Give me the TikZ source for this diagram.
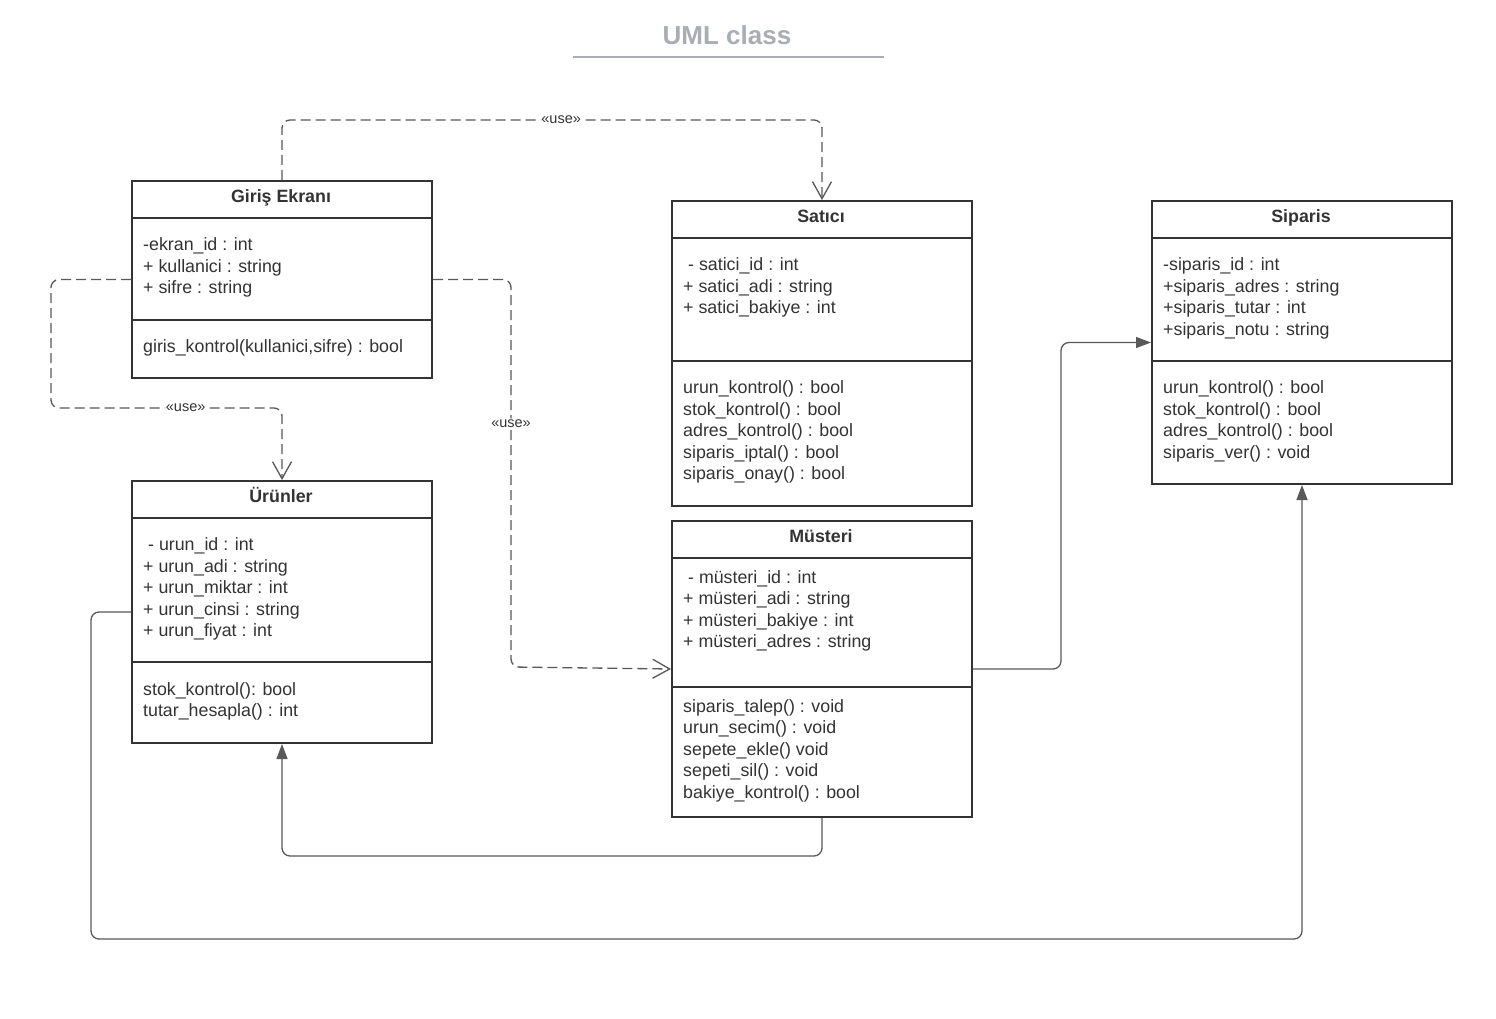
\documentclass[tikz,border=0pt]{standalone}
\usepackage{fontspec}
\setmainfont{Liberation Sans}
\usetikzlibrary{arrows.meta,calc}
\definecolor{ink}{HTML}{333333}
\definecolor{conn}{HTML}{595959}
\definecolor{ttl}{HTML}{A9ADB5}
\newcommand\classlines[4]{\foreach \t [count=\i from 0] in {#4} \node[txt] (#1-\i) at (#2,#3+21.5*\i) {\t};}
\begin{document}
\begin{tikzpicture}[x=1pt,y=-1pt,
 cls/.style={draw=ink,line width=2pt,minimum width=300pt,anchor=north west,inner sep=0pt,fill=white},
 hdr/.style={font=\fontsize{17.8}{21.5}\selectfont\bfseries,text=ink,anchor=base,inner sep=0pt},
 txt/.style={font=\fontsize{17.8}{21.5}\selectfont,text=ink,anchor=base west,inner sep=0pt},
 divl/.style={draw=ink,line width=2pt},
 dep/.style={draw=conn,line width=1.3pt,dash pattern=on 10pt off 5pt,rounded corners=8pt,-{Straight Barb[length=17pt,width=19pt]}},
 assoc/.style={draw=conn,line width=1.3pt,rounded corners=8pt,-{Triangle[length=15pt,width=11pt]}},
 uselbl/.style={font=\fontsize{14.5}{16}\selectfont,text=ink,fill=white,inner sep=1pt}]
\fill[white] (0,0) rectangle (1496,1019);
\useasboundingbox (0,0) rectangle (1496,1019);

% title
\node[font=\fontsize{26}{30}\selectfont\bfseries,text=ttl] (title) at (727,35) {UML class};
\draw[ttl,line width=2pt] (573,57) -- (884,57);

% class boxes
\node[cls,minimum height=197pt] (giris) at (131,180) {};
\node[cls,minimum height=262pt] (urunler) at (131,480) {};
\node[cls,minimum height=305pt] (satici) at (671,200) {};
\node[cls,minimum height=296pt] (musteri) at (671,520) {};
\node[cls,minimum height=283pt] (siparis) at (1151,200) {};

% dividers
\draw[divl] ($(giris.north west)+(0,38)$) -- ($(giris.north east)+(0,38)$);
\draw[divl] ($(giris.north west)+(0,140)$) -- ($(giris.north east)+(0,140)$);
\draw[divl] ($(urunler.north west)+(0,38)$) -- ($(urunler.north east)+(0,38)$);
\draw[divl] ($(urunler.north west)+(0,182)$) -- ($(urunler.north east)+(0,182)$);
\draw[divl] ($(satici.north west)+(0,38)$) -- ($(satici.north east)+(0,38)$);
\draw[divl] ($(satici.north west)+(0,161)$) -- ($(satici.north east)+(0,161)$);
\draw[divl] ($(musteri.north west)+(0,38)$) -- ($(musteri.north east)+(0,38)$);
\draw[divl] ($(musteri.north west)+(0,167)$) -- ($(musteri.north east)+(0,167)$);
\draw[divl] ($(siparis.north west)+(0,38)$) -- ($(siparis.north east)+(0,38)$);
\draw[divl] ($(siparis.north west)+(0,161)$) -- ($(siparis.north east)+(0,161)$);

% headers
\node[hdr] (giris-h) at (281,202.7) {Giriş Ekranı};
\node[hdr] (urunler-h) at (281,502.7) {Ürünler};
\node[hdr] (satici-h) at (821,222.7) {Satıcı};
\node[hdr] (musteri-h) at (821,542.7) {Müsteri};
\node[hdr] (siparis-h) at (1301,222.7) {Siparis};

% texts
\classlines{ga}{143}{250.5}{{-ekran\_id : int},{+ kullanici : string},{+ sifre : string}}
\classlines{gm}{143}{352}{{giris\_kontrol(kullanici,sifre) : bool}}
\classlines{ua}{143}{550.5}{{\ - urun\_id : int},{+ urun\_adi : string},{+ urun\_miktar : int},{+ urun\_cinsi : string},{+ urun\_fiyat : int}}
\classlines{um}{143}{695}{{stok\_kontrol(): bool},{tutar\_hesapla() : int}}
\classlines{sa}{683}{270.5}{{\ - satici\_id : int},{+ satici\_adi : string},{+ satici\_bakiye : int}}
\classlines{sm}{683}{393.5}{{urun\_kontrol() : bool},{stok\_kontrol() : bool},{adres\_kontrol() : bool},{siparis\_iptal() : bool},{siparis\_onay() : bool}}
\classlines{ma}{683}{583}{{\ - müsteri\_id : int},{+ müsteri\_adi : string},{+ müsteri\_bakiye : int},{+ müsteri\_adres : string}}
\classlines{mm}{683}{712}{{siparis\_talep() : void},{urun\_secim() : void},{sepete\_ekle() void},{sepeti\_sil() : void},{bakiye\_kontrol() : bool}}
\classlines{pa}{1163}{270.5}{{-siparis\_id : int},{+siparis\_adres : string},{+siparis\_tutar : int},{+siparis\_notu : string}}
\classlines{pm}{1163}{393.5}{{urun\_kontrol() : bool},{stok\_kontrol() : bool},{adres\_kontrol() : bool},{siparis\_ver() : void}}

% routing points
\coordinate (c1) at (0,120);
\coordinate (l1) at (51,408);
\coordinate (m1) at (511,667);
\coordinate (s1) at (1061,0);
\coordinate (b1) at (0,856);
\coordinate (b2) at (91,939);

% dependencies
\draw[dep] (giris.north) -- (giris.north |- c1) -- node[uselbl,pos=0.517] (use1) {«use»} (satici.north |- c1) -- (satici.north);
\draw[dep] (giris.west) -- (giris.west -| l1) -- (l1) -- node[uselbl,pos=0.583] (use2) {«use»} (urunler.north |- l1) -- (urunler.north);
\draw[dep] (giris.east) -- (giris.east -| m1) -- node[uselbl,pos=0.371] (use3) {«use»} (m1) -- (musteri.west);

% associations
\draw[assoc] (musteri.east) -- (musteri.east -| s1) -- (s1 |- siparis.west) -- (siparis.west);
\draw[assoc] (musteri.south) -- (musteri.south |- b1) -- (urunler.south |- b1) -- (urunler.south);
\draw[assoc] (urunler.west) -- (urunler.west -| b2) -- (b2) -- (siparis.south |- b2) -- (siparis.south);
\end{tikzpicture}
\end{document}
